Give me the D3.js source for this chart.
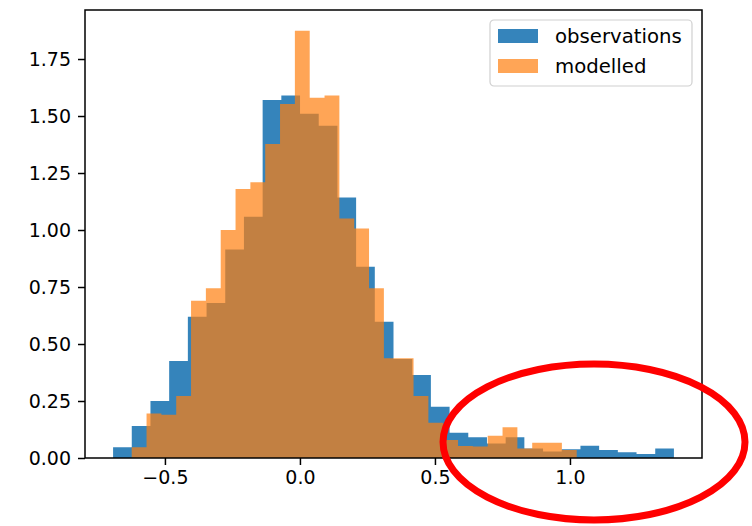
<!DOCTYPE html>
<html>
<head>
<meta charset="utf-8">
<script src="https://cdn.jsdelivr.net/npm/d3@7"></script>
<style>
  body { margin: 0; background: #fff; }
  svg { display: block; font-family: "DejaVu Sans", sans-serif; }
</style>
</head>
<body>
<div id="chart"></div>
<script>
// histogram data (density), 30 bins each
const obsRange = [-0.692, 1.385];
const obsDensity = [0.047, 0.14, 0.25, 0.425, 0.62, 0.68, 0.915, 1.058, 1.57, 1.59,
    1.51, 1.457, 1.143, 0.839, 0.598, 0.434, 0.364, 0.225, 0.111, 0.091,
    0.064, 0.091, 0.042, 0.028, 0.038, 0.054, 0.035, 0.025, 0.018, 0.042];

const modRange = [-0.623, 1.025];
const modDensity = [0.047, 0.195, 0.19, 0.272, 0.69, 0.745, 1.0, 1.18, 1.21, 1.377,
    1.553, 1.874, 1.58, 1.59, 1.05, 1.007, 0.745, 0.437, 0.437, 0.272,
    0.155, 0.079, 0.053, 0.05, 0.098, 0.135, 0.042, 0.067, 0.067, 0.035];

const seriesNames = ["observations", "modelled"];
const xTicks = [-0.5, 0.0, 0.5, 1.0];
const yTicks = [0, 0.25, 0.5, 0.75, 1.0, 1.25, 1.5, 1.75];

const width = 752, height = 526;
const margin = {left: 85, right: 50, top: 10, bottom: 68};

const svg = d3.select("#chart").append("svg")
    .attr("width", width)
    .attr("height", height);

const x = d3.scaleLinear().domain([-0.796, 1.489]).range([margin.left, width - margin.right]);
const y = d3.scaleLinear().domain([0, 1.965]).range([height - margin.bottom, margin.top]);

// turn a range + densities into step points (last edge repeats last value)
function makeSteps(range, values) {
    const step = (range[1] - range[0]) / values.length;
    const pts = values.map((v, i) => ({x: range[0] + i * step, v: v}));
    pts.push({x: range[1], v: values[values.length - 1]});
    return pts;
}

const series = [
    {name: seriesNames[0], steps: makeSteps(obsRange, obsDensity), color: "#1f77b4", alpha: 0.9},
    {name: seriesNames[1], steps: makeSteps(modRange, modDensity), color: "#ff7f0e", alpha: 0.7}
];

// one filled step area per series, so the bars have no seams
const area = d3.area()
    .curve(d3.curveStepAfter)
    .x(d => x(d.x))
    .y0(y(0))
    .y1(d => y(d.v));

series.forEach(s => {
    svg.append("path")
        .datum(s.steps)
        .attr("d", area)
        .attr("fill", s.color)
        .attr("fill-opacity", s.alpha);
});

// axes
const xAxis = svg.append("g")
    .attr("transform", `translate(0,${height - margin.bottom})`)
    .call(d3.axisBottom(x).tickValues(xTicks).tickSize(7).tickPadding(6)
        .tickFormat(d => d3.format(".1f")(d).replace("-", "\u2212")));

const yAxis = svg.append("g")
    .attr("transform", `translate(${margin.left},0)`)
    .call(d3.axisLeft(y).tickValues(yTicks).tickSize(7).tickPadding(7)
        .tickFormat(d3.format(".2f")));

[xAxis, yAxis].forEach(a => {
    a.select(".domain").remove();
    a.selectAll("text").attr("font-size", 19).attr("fill", "#000")
        .attr("font-family", "DejaVu Sans");
    a.selectAll("line").attr("stroke", "#000").attr("stroke-width", 1.5);
});

// frame
svg.append("rect")
    .attr("x", margin.left)
    .attr("y", margin.top)
    .attr("width", width - margin.left - margin.right)
    .attr("height", height - margin.top - margin.bottom)
    .attr("fill", "none")
    .attr("stroke", "#000")
    .attr("stroke-width", 1.5);

// legend
const legend = svg.append("g").attr("transform", "translate(490,20)");
legend.append("rect")
    .attr("width", 202).attr("height", 66)
    .attr("rx", 4)
    .attr("fill", "#fff").attr("fill-opacity", 0.8)
    .attr("stroke", "#d0d0d0").attr("stroke-width", 1.2);

series.forEach((s, i) => {
    const row = legend.append("g").attr("transform", `translate(0,${i * 30})`);
    row.append("rect")
        .attr("x", 8).attr("y", 9)
        .attr("width", 40).attr("height", 14)
        .attr("fill", s.color).attr("fill-opacity", s.alpha);
    row.append("text")
        .attr("x", 65).attr("y", 23)
        .attr("font-size", 19.7)
        .text(s.name);
});

// red highlight ellipse
svg.append("ellipse")
    .attr("cx", 594).attr("cy", 442)
    .attr("rx", 151).attr("ry", 78)
    .attr("fill", "none")
    .attr("stroke", "#ff0000")
    .attr("stroke-width", 7);
</script>
</body>
</html>
